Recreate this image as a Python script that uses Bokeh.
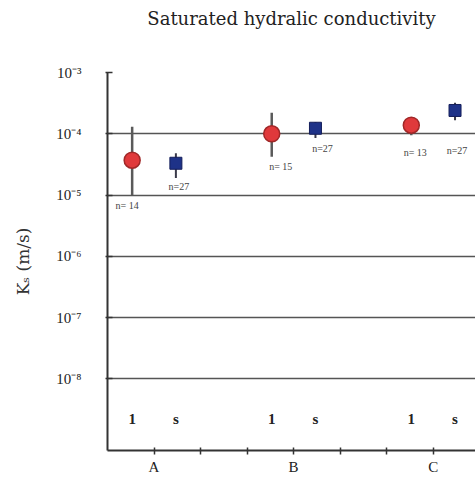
from bokeh.plotting import figure
from bokeh.models import ColumnDataSource, FixedTicker, LinearAxis, Range1d
from bokeh.core.properties import value
from bokeh.embed import file_html
from bokeh.resources import INLINE

# Saturated hydraulic conductivity per site, two sample types
groups = ["A", "B", "C"]
types = ["1", "s"]

ks_1 = [3.7e-5, 1.0e-4, 1.38e-4]
lo_1 = [1.0e-5, 4.2e-5, 9.5e-5]
hi_1 = [1.3e-4, 2.2e-4, 1.86e-4]
n_1 = [14, 15, 13]

ks_s = [3.3e-5, 1.23e-4, 2.4e-4]
lo_s = [1.9e-5, 8.5e-5, 1.66e-4]
hi_s = [4.8e-5, 1.55e-4, 3.2e-4]
n_s = [27, 27, 27]

y_ticks = [1e-3, 1e-4, 1e-5, 1e-6, 1e-7, 1e-8]
y_tick_labels = ["10⁻³", "10⁻⁴", "10⁻⁵", "10⁻⁶", "10⁻⁷", "10⁻⁸"]

SERIF = "Liberation Serif"
WIDE_SERIF = "DejaVu Serif"

# layout: each site spans 3 axis units, centred on 1, 4, 7
centers = [1 + 3 * i for i in range(len(groups))]
x_1 = [c - 0.47 for c in centers]
x_s = [c + 0.47 for c in centers]

p = figure(width=475, height=477, output_backend="svg", toolbar_location=None,
           y_axis_type="log",
           x_range=Range1d(0, 7.91), y_range=Range1d(10 ** -9.17, 1e-3),
           min_border_left=107, min_border_right=0, min_border_top=72,
           min_border_bottom=25)
p.outline_line_color = None
p.background_fill_color = "white"
p.border_fill_color = "white"

# heading drawn as the label of a bare axis above the frame
head = LinearAxis(ticker=FixedTicker(ticks=[]), axis_line_color=None,
                  major_tick_line_color=None, minor_tick_line_color=None,
                  major_label_text_alpha=0,
                  axis_label="Saturated hydralic conductivity",
                  axis_label_text_font=WIDE_SERIF,
                  axis_label_text_font_size="18px",
                  axis_label_text_font_style="normal",
                  axis_label_text_color="#222222",
                  axis_label_standoff=40)
p.add_layout(head, "above")

# axes
p.xaxis.ticker = FixedTicker(ticks=[1, 2, 3, 4, 5, 6, 7])
p.xaxis.major_label_overrides = {1: "A", 2: "", 3: "", 4: "B", 5: "", 6: "", 7: "C"}
p.xaxis.major_label_text_font = SERIF
p.xaxis.major_label_text_font_size = "15px"
p.xaxis.major_label_text_color = "#222222"
p.xaxis.major_label_standoff = 4
p.xaxis.major_tick_in = 3
p.xaxis.major_tick_out = 4
p.xaxis.minor_tick_line_color = None
p.xaxis.axis_line_width = 2
p.xaxis.major_tick_line_width = 1.5
p.xaxis.axis_line_color = "#333333"
p.xaxis.major_tick_line_color = "#333333"
head.axis_line_color = None
head.major_tick_line_color = None

p.yaxis.ticker = FixedTicker(ticks=y_ticks)
p.yaxis.major_label_overrides = dict(zip(y_ticks, y_tick_labels))
p.yaxis.major_label_text_font = SERIF
p.yaxis.major_label_text_font_size = "15px"
p.yaxis.major_label_text_color = "#222222"
p.yaxis.major_label_standoff = 24
p.yaxis.major_tick_in = 5
p.yaxis.major_tick_out = 2
p.yaxis.minor_tick_line_color = None
p.yaxis.axis_line_width = 2
p.yaxis.major_tick_line_width = 1.5
p.yaxis.axis_line_color = "#333333"
p.yaxis.major_tick_line_color = "#333333"
p.yaxis.axis_label = "Kₛ (m/s)"
p.yaxis.axis_label_text_font = WIDE_SERIF
p.yaxis.axis_label_text_font_size = "17px"
p.yaxis.axis_label_text_font_style = "normal"
p.yaxis.axis_label_text_color = "#333333"
p.yaxis.axis_label_standoff = 20

p.xgrid.visible = False
p.ygrid.ticker = FixedTicker(ticks=y_ticks[1:])
p.ygrid.grid_line_color = "#555555"
p.ygrid.grid_line_width = 1.6

# error bars
p.segment(x0=x_1, y0=lo_1, x1=x_1, y1=hi_1, line_color="#5a5a5a", line_width=2.5)
p.segment(x0=x_s, y0=lo_s, x1=x_s, y1=hi_s, line_color="#3a3a4a", line_width=2)

# means
p.scatter(x=x_1, y=ks_1, marker="circle", size=16,
          fill_color="#e0393b", line_color="#a02828", line_width=1.5)
p.scatter(x=x_s, y=ks_s, marker="square", size=12,
          fill_color="#1e3288", line_color="#141e5a", line_width=1)

# sample counts below each bar (pixel offsets per label)
off_1 = [(-5, 10), (9, 10), (4, 17)]
off_s = [(3, 9), (7, 10), (2, 30)]
n_src = ColumnDataSource(dict(
    x=x_1 + x_s, y=lo_1 + lo_s,
    dx=[o[0] for o in off_1 + off_s], dy=[o[1] for o in off_1 + off_s],
    t=[f"n= {n}" for n in n_1] + [f"n={n}" for n in n_s]))
p.text(x="x", y="y", text="t", x_offset="dx", y_offset="dy", source=n_src,
       text_font=value(SERIF), text_font_size="10px", text_color="#444444",
       text_align="center", text_baseline="middle")

# sample-type labels in the bottom band
band_y = 10 ** -8.65
src = ColumnDataSource(dict(x=x_1 + x_s, y=[band_y] * 6,
                            t=[types[0]] * 3 + [types[1]] * 3))
p.text(x="x", y="y", text="t", source=src, text_font=value(SERIF),
       text_font_size="15px", text_color="#222222", text_align="center",
       text_baseline="middle", text_font_style="bold")

open("out.html", "w").write(file_html(p, INLINE))
